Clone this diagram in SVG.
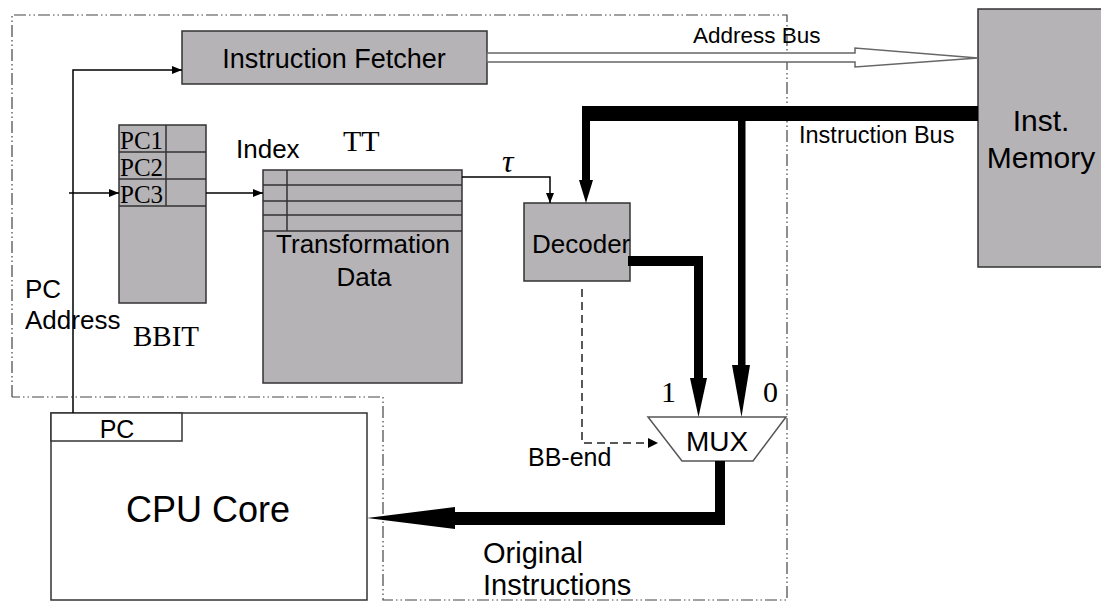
<svg xmlns="http://www.w3.org/2000/svg" width="1101" height="603" viewBox="0 0 1101 603">
<defs>
<marker id="ah" markerWidth="10" markerHeight="8" refX="10" refY="4" orient="auto" markerUnits="userSpaceOnUse">
<path d="M0,0 L10,4 L0,8 Z" fill="#000"/>
</marker>
<style>
.box{fill:#b6b3b7;stroke:#333;stroke-width:1.5}
.wbox{fill:#fff;stroke:#333;stroke-width:1.5}
.cell{fill:none;stroke:#333;stroke-width:1.5}
.dd{fill:none;stroke:#444;stroke-width:1.2;stroke-dasharray:12 3 1.5 3 1.5 3}
.thin{fill:none;stroke:#000;stroke-width:1.5}
.dash{fill:none;stroke:#222;stroke-width:1.5;stroke-dasharray:8 5}
.sans{font-family:"Liberation Sans",Arial,sans-serif;fill:#000}
.serif{font-family:"Liberation Serif","Times New Roman",serif;fill:#000}
</style>
</defs>
<rect width="1101" height="603" fill="#fff"/>
<g id="boundary">
<path class="dd" d="M12,397 V15 H787 V600 H383 V397 H12"/>
</g>
<g id="fetcher">
<rect class="box" x="182" y="31" width="305" height="53"/>
<text class="sans" x="334" y="68" font-size="27" text-anchor="middle">Instruction Fetcher</text>
</g>
<g id="inst-memory">
<rect class="box" x="978" y="9" width="130" height="258"/>
<text class="sans" x="1041" y="131" font-size="30" text-anchor="middle">Inst.</text>
<text class="sans" x="1041" y="168" font-size="30" text-anchor="middle">Memory</text>
</g>
<g id="bbit">
<rect class="box" x="119" y="125" width="87" height="178"/>
<path class="cell" d="M119,152 H206 M119,179 H206 M119,206 H206 M166,125 V206"/>
<text class="serif" x="120" y="149" font-size="25">PC1</text>
<text class="serif" x="120" y="176" font-size="25">PC2</text>
<text class="serif" x="120" y="203" font-size="25">PC3</text>
<text class="serif" x="133" y="346" font-size="29">BBIT</text>
</g>
<g id="tt">
<rect class="box" x="263" y="170" width="199" height="213"/>
<path class="cell" d="M263,185 H462 M263,201 H462 M263,215 H462 M263,231 H462 M287,170 V231"/>
<text class="sans" x="363" y="253" font-size="26" text-anchor="middle">Transformation</text>
<text class="sans" x="364" y="286" font-size="26" text-anchor="middle">Data</text>
<text class="sans" x="236" y="158" font-size="26">Index</text>
<text class="serif" x="343" y="151" font-size="30">TT</text>
</g>
<g id="decoder">
<rect class="box" x="524" y="203" width="106" height="78"/>
<text class="sans" x="532" y="253" font-size="26">Decoder</text>
</g>
<g id="mux">
<polygon points="648,417 786,417 753,461 682,461" fill="#fff" stroke="#555" stroke-width="1.5"/>
<text class="sans" x="717" y="451" font-size="28" text-anchor="middle">MUX</text>
<text class="serif" x="661" y="402" font-size="30">1</text>
<text class="serif" x="763" y="402" font-size="30">0</text>
</g>
<g id="cpu">
<rect class="wbox" x="51" y="413" width="316" height="187"/>
<rect class="wbox" x="51" y="413" width="131" height="28"/>
<text class="sans" x="117" y="438" font-size="25" text-anchor="middle">PC</text>
<text class="sans" x="208" y="522" font-size="36" text-anchor="middle">CPU Core</text>
</g>
<g id="connectors">
<path class="thin" d="M73,413 V70 H182" marker-end="url(#ah)"/>
<path class="thin" d="M69,193 H119" marker-end="url(#ah)"/>
<path class="thin" d="M206,193 H263" marker-end="url(#ah)"/>
<path class="thin" d="M462,177 H550 V203" marker-end="url(#ah)"/>
<polygon points="487,53 855,53 855,48 978,58 855,67 855,62 487,62" fill="#fff" stroke="#666" stroke-width="1.5"/>
<rect x="582" y="106" width="396" height="15" fill="#000"/>
<rect x="582" y="106" width="8" height="75" fill="#000"/>
<polygon points="579,180 593,180 586,203" fill="#000"/>
<rect x="738" y="121" width="7.5" height="245" fill="#000"/>
<polygon points="732,365 750,365 741.5,417" fill="#000"/>
<rect x="628" y="256" width="75" height="10" fill="#000"/>
<rect x="694" y="256" width="9" height="123" fill="#000"/>
<polygon points="690,378 707,378 698.5,417" fill="#000"/>
<path class="dash" d="M582,289 V443 H650"/>
<polygon points="648,438 658,443 648,448" fill="#000"/>
<rect x="715" y="461" width="10" height="64" fill="#000"/>
<rect x="455" y="512" width="270" height="13" fill="#000"/>
<polygon points="455,507 455,529 367,518" fill="#000"/>
</g>
<g id="labels">
<text class="sans" x="693" y="43" font-size="22.5">Address Bus</text>
<text class="sans" x="799" y="143" font-size="23.5">Instruction Bus</text>
<text class="serif" x="502" y="172" font-size="32" font-style="italic">τ</text>
<text class="sans" x="25" y="298" font-size="26">PC</text>
<text class="sans" x="25" y="329" font-size="26">Address</text>
<text class="sans" x="528" y="466" font-size="25">BB-end</text>
<text class="sans" x="483" y="563" font-size="29">Original</text>
<text class="sans" x="483" y="595" font-size="29">Instructions</text>
</g>
</svg>
